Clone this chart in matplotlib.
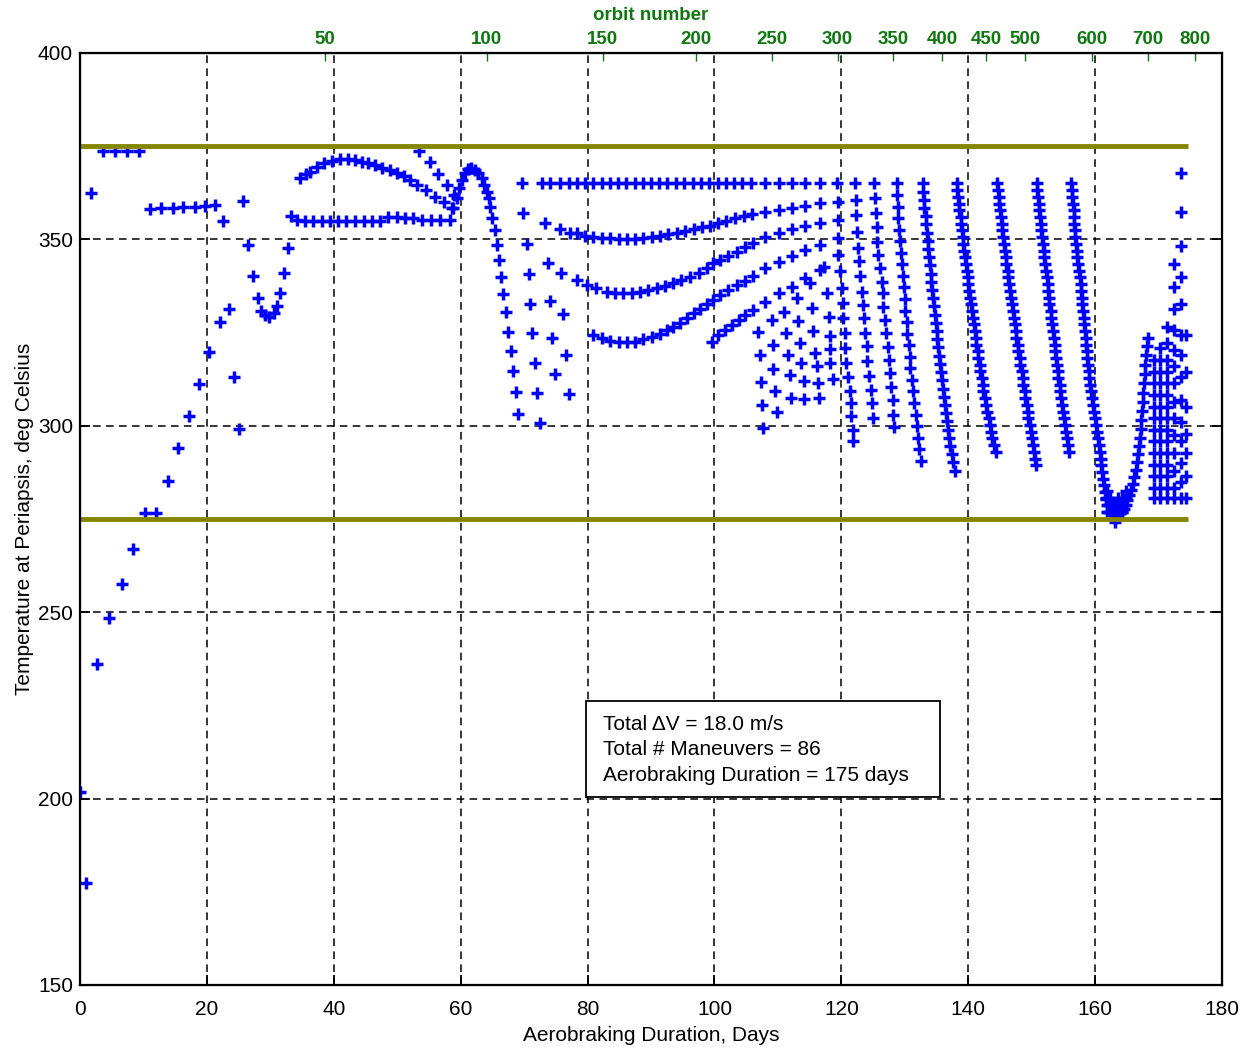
import matplotlib
matplotlib.use('Agg')
import matplotlib.pyplot as plt
from matplotlib.patches import Rectangle

plt.rcParams['font.family'] = ['Liberation Sans', 'DejaVu Sans']

# ── Data (day, temperature in deg C) ────────────────────────────────────────
EARLY_DAY = [0.0, 0.95, 1.8, 2.7, 3.6, 4.6, 5.5, 6.6, 7.4, 8.4, 9.3, 10.3, 11.0, 12.0,
             12.8, 13.8, 14.6, 15.4, 16.3, 17.2, 18.1, 18.7, 19.7, 20.4, 21.2, 22.0,
             22.6, 23.5, 24.2, 25.1, 25.7, 26.5, 27.2, 28.1, 28.6, 29.2, 29.8, 30.5,
             31.0, 31.6, 32.2, 32.8, 33.3]
EARLY_T = [201.8, 177.4, 362.5, 236.0, 373.8, 248.4, 373.8, 257.6, 373.8, 266.9, 373.8,
           276.5, 358.1, 276.5, 358.3, 285.3, 358.3, 294.0, 358.6, 302.6, 358.8, 311.1,
           359.0, 319.9, 359.3, 327.9, 355.0, 331.2, 313.1, 299.2, 360.2, 348.6, 340.3,
           334.2, 330.9, 329.7, 329.3, 330.2, 332.1, 335.5, 340.9, 347.7, 356.3]

FLAT_DAY = [34.2, 35.5, 36.8, 38.1, 39.4, 40.7, 42.0, 43.3, 44.7, 46.0, 47.3, 48.6, 49.9,
            51.2, 52.5, 53.9, 55.4, 56.7, 58.3]
FLAT_T = [355.2, 355.0, 355.0, 355.0, 355.0, 355.0, 355.0, 355.0, 355.0, 355.0, 355.0,
          355.9, 355.9, 355.7, 355.6, 355.3, 355.3, 355.2, 355.3]

ARC0_DAY = [34.7, 35.6, 36.3, 37.3, 38.4, 39.7, 41.0, 42.3, 43.3, 44.4, 45.4, 46.5, 47.6,
            48.9, 49.9, 51.0, 52.0, 53.1, 54.5, 56.0, 57.3, 58.6]
ARC0_T = [366.4, 367.5, 368.2, 369.5, 370.4, 371.1, 371.5, 371.5, 371.3, 370.8, 370.4,
          370.0, 369.1, 368.6, 367.9, 367.0, 365.9, 364.6, 363.3, 361.5, 360.1, 358.3]

DIAG_DAY = [53.5, 55.2, 56.5, 57.8, 59.0]
DIAG_T = [373.8, 370.7, 367.5, 364.6, 361.9]

HUMP_DAY = [58.8, 59.4, 59.8, 60.2, 60.7, 61.2, 61.7, 62.3, 62.8, 63.3, 63.7, 64.1, 64.4,
            64.6, 64.9, 65.4, 65.7, 66.0, 66.4, 66.7, 67.1, 67.5, 67.9, 68.2, 68.7, 69.1]
HUMP_T = [358.3, 361.0, 363.7, 365.9, 367.7, 368.8, 369.1, 368.6, 367.7, 366.4, 364.6,
          362.8, 361.0, 358.8, 355.7, 352.5, 348.5, 344.5, 340.0, 335.4, 330.6, 325.2,
          320.1, 314.8, 309.1, 303.2]

SHORT_DAY = [69.8, 70.4, 70.8, 71.0, 71.3, 71.7, 72.0, 72.5, 74.1, 74.4, 74.9, 76.2, 76.6, 77.0]
SHORT_T = [357.0, 348.8, 340.7, 332.7, 324.8, 316.8, 308.7, 300.8, 333.6, 323.5, 313.9,
           330.0, 319.0, 308.5]

TOP_DAY = [69.6, 72.8, 74.1, 75.7, 77.0, 78.3, 79.6, 80.9, 82.2, 83.5, 84.8, 86.1, 87.4,
           88.7, 90.0, 91.3, 92.6, 93.9, 95.2, 96.6, 97.9, 99.2, 100.5, 101.8, 103.1,
           104.4, 105.7, 108.0, 110.1, 112.2, 114.3, 116.6]
TOP_T = [365.1, 365.1, 365.1, 365.1, 365.1, 365.1, 365.1, 365.1, 365.1, 365.1, 365.1,
         365.1, 365.1, 365.1, 365.1, 365.1, 365.1, 365.1, 365.1, 365.1, 365.1, 365.1,
         365.1, 365.1, 365.1, 365.1, 365.1, 365.1, 365.1, 365.1, 365.1, 365.1]

ARC2_DAY = [73.3, 75.6, 77.2, 78.3, 79.6, 80.9, 82.2, 83.5, 84.9, 86.2, 87.5, 88.8, 90.1,
            91.4, 92.7, 94.1, 95.4, 96.7, 98.0, 99.3, 100.6, 101.9, 103.2, 104.6, 105.9,
            108.0, 110.1, 112.2, 114.3, 116.6]
ARC2_T = [354.5, 352.7, 351.8, 351.6, 350.9, 350.6, 350.3, 350.3, 350.0, 350.0, 350.0,
          350.3, 350.6, 350.9, 351.4, 351.8, 352.3, 352.7, 353.2, 353.6, 354.5, 355.0,
          355.7, 356.3, 356.8, 357.4, 357.9, 358.3, 359.0, 359.7]

ARC3_DAY = [73.8, 75.8, 78.3, 79.9, 81.4, 83.0, 84.3, 85.6, 87.0, 88.3, 89.6, 90.9, 92.2,
            93.5, 94.8, 96.2, 97.5, 98.8, 99.8, 100.9, 102.2, 103.5, 104.8, 106.1, 108.0,
            110.1, 112.2, 114.3, 116.6]
ARC3_T = [343.6, 341.1, 339.1, 337.8, 336.9, 336.0, 335.7, 335.7, 335.7, 336.0, 336.4,
          336.9, 337.5, 338.4, 339.1, 340.0, 341.1, 342.2, 343.6, 344.5, 345.5, 346.7,
          347.9, 349.0, 350.6, 351.8, 352.7, 353.6, 354.5]

ARC4_DAY = [80.9, 82.2, 83.5, 84.9, 86.2, 87.5, 88.8, 90.1, 91.4, 92.5, 93.5, 94.6, 95.6,
            96.7, 97.7, 98.8, 99.8, 100.9, 102.2, 103.5, 104.8, 106.1, 108.0, 110.1,
            112.2, 114.3, 116.6]
ARC4_T = [324.4, 323.5, 322.8, 322.6, 322.6, 322.6, 323.2, 323.9, 324.6, 325.7, 326.6,
          327.7, 328.8, 330.2, 331.2, 332.7, 333.7, 335.1, 336.4, 337.8, 338.9, 340.2,
          342.2, 343.8, 345.5, 347.2, 348.5]

ARC5_DAY = [99.6, 100.6, 101.7, 102.7, 103.8, 104.8, 106.1, 108.0, 110.1, 112.2, 114.3, 116.6]
ARC5_T = [322.6, 324.4, 325.7, 327.0, 328.4, 329.7, 331.1, 333.3, 335.5, 337.3, 339.6, 341.8]

FAN_DAY = [106.9, 107.2, 107.3, 107.5, 107.7, 109.0, 109.3, 109.3, 109.6, 109.9,
           110.9, 111.3, 111.6, 111.9, 112.1, 113.0, 113.2, 113.5, 113.7, 114.1, 114.1,
           115.1, 115.3, 115.6, 115.9, 116.2, 116.4, 116.5,
           117.3, 117.7, 118.0, 118.2, 118.2, 118.2, 118.7]
FAN_T = [325.2, 319.0, 311.8, 305.6, 299.3, 328.4, 321.7, 315.2, 309.4, 303.8,
         330.6, 324.8, 319.0, 313.6, 307.5, 334.2, 328.2, 322.3, 316.9, 312.1, 307.1,
         338.2, 331.5, 325.5, 319.6, 316.0, 311.4, 307.4,
         342.7, 335.5, 329.3, 324.1, 320.5, 316.9, 312.5]

COL1_DAY = [119.3, 119.4, 119.4, 119.4, 119.4, 119.8, 120.1, 120.2, 120.3, 120.6, 120.6,
            120.8, 121.1, 121.4, 121.5, 121.6, 121.9, 121.9]
COL1_T = [365.0, 360.1, 355.2, 350.3, 345.8, 341.4, 336.9, 332.9, 328.9, 324.8, 320.8,
          316.8, 313.2, 309.2, 306.1, 302.5, 298.9, 295.8]

COL2_DAY = [122.2, 122.3, 122.3, 122.4, 122.7, 122.8, 123.0, 123.2, 123.4, 123.6, 123.7,
            124.0, 124.1, 124.4, 124.6, 124.8, 125.0]
COL2_T = [365.0, 360.6, 356.6, 352.1, 347.7, 344.1, 340.1, 336.0, 332.5, 328.9, 324.9,
          321.3, 317.3, 313.3, 309.7, 306.1, 302.1]

COL3_DAY = [125.2, 125.3, 125.5, 125.6, 125.7, 125.8, 126.1, 126.4, 126.5, 126.6, 126.9,
            127.0, 127.3, 127.5, 127.7, 127.8, 128.1, 128.2, 128.3]
COL3_T = [365.0, 361.0, 357.1, 353.2, 349.3, 345.8, 342.2, 338.6, 335.5, 331.9, 328.4,
          324.8, 321.2, 317.6, 314.1, 310.5, 306.9, 302.9, 299.8]

COL4_DAY = [128.7, 128.8, 128.9, 129.0, 129.1, 129.3, 129.4, 129.5, 129.7, 129.8, 130.0,
            130.1, 130.3, 130.4, 130.6, 130.8, 130.9, 131.1, 131.3, 131.5, 131.7, 131.9,
            132.1, 132.3, 132.6]
COL4_T = [365.0, 361.9, 358.8, 355.7, 352.6, 349.5, 346.4, 343.3, 340.2, 337.1, 334.0,
          330.9, 327.8, 324.7, 321.6, 318.5, 315.4, 312.3, 309.2, 306.1, 303.0, 299.9,
          296.8, 293.7, 290.6]

COL5_DAY = [132.8, 132.9, 133.0, 133.1, 133.3, 133.4, 133.5, 133.6, 133.7, 133.8, 134.0,
            134.1, 134.2, 134.3, 134.5, 134.6, 134.7, 134.9, 135.0, 135.1, 135.3, 135.4,
            135.6, 135.7, 135.9, 136.0, 136.2, 136.3, 136.5, 136.7, 136.8, 137.0, 137.2,
            137.4, 137.6, 137.9]
COL5_T = [365.0, 362.8, 360.6, 358.4, 356.2, 354.0, 351.8, 349.6, 347.4, 345.2, 343.0,
          340.8, 338.6, 336.4, 334.2, 332.0, 329.8, 327.6, 325.4, 323.2, 321.0, 318.8,
          316.6, 314.4, 312.2, 310.0, 307.8, 305.6, 303.4, 301.2, 299.0, 296.8, 294.6,
          292.4, 290.2, 288.0]

COL6_DAY = [138.2, 138.3, 138.4, 138.5, 138.6, 138.8, 138.9, 139.0, 139.1, 139.2, 139.4,
            139.5, 139.6, 139.8, 139.9, 140.0, 140.2, 140.3, 140.4, 140.6, 140.7, 140.9,
            141.0, 141.2, 141.3, 141.5, 141.6, 141.8, 141.9, 142.1, 142.3, 142.4, 142.6,
            142.8, 143.0, 143.2, 143.4, 143.6, 143.8, 144.0, 144.3]
COL6_T = [365.0, 363.2, 361.4, 359.6, 357.8, 356.0, 354.2, 352.4, 350.6, 348.8, 347.0,
          345.2, 343.4, 341.6, 339.8, 338.0, 336.2, 334.4, 332.6, 330.8, 329.0, 327.2,
          325.4, 323.6, 321.8, 320.0, 318.2, 316.4, 314.6, 312.8, 311.0, 309.2, 307.4,
          305.6, 303.8, 302.0, 300.2, 298.4, 296.6, 294.8, 293.0]

COL7_DAY = [144.6, 144.7, 144.8, 144.9, 145.0, 145.1, 145.3, 145.4, 145.5, 145.6, 145.8,
            145.9, 146.0, 146.2, 146.3, 146.4, 146.6, 146.7, 146.9, 147.0, 147.2, 147.3,
            147.5, 147.6, 147.8, 147.9, 148.1, 148.2, 148.4, 148.6, 148.7, 148.9, 149.0,
            149.2, 149.4, 149.5, 149.7, 149.9, 150.0, 150.2, 150.4, 150.5, 150.7]
COL7_T = [365.0, 363.2, 361.4, 359.6, 357.8, 356.0, 354.2, 352.4, 350.6, 348.8, 347.0,
          345.2, 343.4, 341.6, 339.8, 338.0, 336.2, 334.4, 332.6, 330.8, 329.0, 327.2,
          325.4, 323.6, 321.8, 320.0, 318.2, 316.4, 314.6, 312.8, 311.0, 309.2, 307.4,
          305.6, 303.8, 302.0, 300.2, 298.4, 296.6, 294.8, 293.0, 291.2, 289.4]

COL8_DAY = [150.8, 150.9, 151.0, 151.1, 151.2, 151.3, 151.4, 151.5, 151.7, 151.8, 151.9,
            152.0, 152.1, 152.2, 152.4, 152.5, 152.6, 152.7, 152.8, 153.0, 153.1, 153.2,
            153.3, 153.5, 153.6, 153.7, 153.8, 154.0, 154.1, 154.2, 154.4, 154.5, 154.6,
            154.8, 154.9, 155.1, 155.2, 155.4, 155.5, 155.7, 155.9]
COL8_T = [365.0, 363.2, 361.4, 359.6, 357.8, 356.0, 354.2, 352.4, 350.6, 348.8, 347.0,
          345.2, 343.4, 341.6, 339.8, 338.0, 336.2, 334.4, 332.6, 330.8, 329.0, 327.2,
          325.4, 323.6, 321.8, 320.0, 318.2, 316.4, 314.6, 312.8, 311.0, 309.2, 307.4,
          305.6, 303.8, 302.0, 300.2, 298.4, 296.6, 294.8, 293.0]

COL9_DAY = [156.2, 156.3, 156.4, 156.5, 156.6, 156.7, 156.7, 156.8, 156.9, 157.0, 157.1,
            157.2, 157.3, 157.4, 157.6, 157.7, 157.8, 157.9, 158.0, 158.1, 158.2,
            158.3, 158.4, 158.5, 158.6, 158.7, 158.8, 158.9, 159.0, 159.1, 159.2,
            159.4, 159.5, 159.7, 159.8, 160.0, 160.1, 160.3, 160.4, 160.6, 160.7,
            160.9, 161.0, 161.1, 161.3, 161.4, 161.6, 161.7]
COL9_T = [365.0, 363.2, 361.4, 359.6, 357.8, 356.0, 354.2, 352.4, 350.6, 348.8, 347.0,
          345.2, 343.4, 341.6, 339.8, 338.0, 336.2, 334.4, 332.6, 330.8, 329.0,
          327.2, 325.4, 323.6, 321.8, 320.0, 318.2, 316.4, 314.6, 312.8, 311.0,
          309.2, 307.4, 305.6, 303.8, 302.0, 300.2, 298.4, 296.6, 294.8, 293.0,
          291.2, 289.4, 287.6, 285.8, 284.0, 282.2, 280.4]

VBOT_DAY = [161.9, 162.1, 162.3, 162.5, 162.7, 162.9, 163.1, 163.3, 163.5, 163.7, 163.9,
            164.1, 164.3, 161.8, 162.1, 162.4, 162.7, 163.0, 163.3, 163.6, 163.9, 164.2,
            164.5, 161.7, 162.0, 162.4, 163.6, 164.2, 164.8, 161.8, 164.9, 163.1]
VBOT_T = [277.0, 277.0, 277.0, 277.0, 277.0, 277.0, 277.0, 277.0, 277.0, 277.0, 277.0,
          277.0, 277.0, 278.8, 278.8, 278.8, 278.8, 278.8, 278.8, 278.8, 278.8, 278.8,
          278.8, 280.6, 280.6, 280.6, 280.6, 280.6, 280.6, 282.5, 282.5, 274.3]

VUP_DAY = [164.2, 164.5, 164.8, 165.1, 165.4, 165.7, 166.0, 166.2, 166.4, 166.6, 166.8,
           166.9, 167.1, 167.2, 167.3, 167.4, 167.5, 167.6, 167.7, 167.8, 167.9, 168.0,
           168.2, 168.4]
VUP_T = [277.0, 277.8, 278.8, 280.0, 281.3, 282.8, 284.5, 286.3, 288.2, 290.2, 292.3,
         294.5, 296.8, 299.1, 301.5, 303.9, 306.4, 308.9, 311.4, 313.9, 316.4, 318.9,
         321.4, 323.5]

# end-of-campaign lattice, one column per day
LAT_DAYS = [169.3, 170.2, 171.3, 172.5, 173.6, 174.3]
LAT_T = [
    [317.6, 314.5, 311.4, 308.3, 305.1, 302.0, 298.9, 295.8, 292.6, 289.5, 286.4, 283.2, 280.6],
    [320.8, 317.6, 314.5, 311.4, 308.3, 305.1, 302.0, 298.9, 295.8, 292.6, 289.5, 286.4, 283.2, 280.6],
    [326.6, 322.1, 317.6, 314.5, 311.4, 308.3, 305.1, 302.0, 298.9, 295.8, 292.6, 289.5, 286.4, 283.2, 280.6],
    [343.4, 337.3, 331.2, 325.7, 320.3, 316.0, 311.4, 306.5, 302.0, 297.5, 292.6, 288.0, 283.2, 280.6],
    [367.7, 357.4, 348.2, 340.0, 332.7, 324.4, 319.0, 313.0, 307.0, 301.0, 295.8, 290.0, 285.0, 280.6],
    [324.4, 314.5, 305.1, 297.9, 292.6, 286.4, 280.6],
]

LIMIT_T = [375, 275]
LIMIT_END = 174.6

ORBIT_LABELS = [50, 100, 150, 200, 250, 300, 350, 400, 450, 500, 600, 700, 800]
ORBIT_DAYS = [38.6, 64.1, 82.4, 97.1, 109.1, 119.4, 128.2, 135.9, 142.8, 149.0, 159.5,
              168.3, 175.8]

SUMMARY = ['Total \u0394V = 18.0 m/s', 'Total # Maneuvers = 86',
           'Aerobraking Duration = 175 days']

GREEN = '#107810'
OLIVE = '#858500'

fig = plt.figure(figsize=(12.5, 10.51), dpi=100)
ax = fig.add_axes([0.064, 0.0628, 0.9136, 0.8868])

groups = [(EARLY_DAY, EARLY_T), (FLAT_DAY, FLAT_T), (ARC0_DAY, ARC0_T), (DIAG_DAY, DIAG_T),
          (HUMP_DAY, HUMP_T), (SHORT_DAY, SHORT_T), (TOP_DAY, TOP_T), (ARC2_DAY, ARC2_T),
          (ARC3_DAY, ARC3_T), (ARC4_DAY, ARC4_T), (ARC5_DAY, ARC5_T), (FAN_DAY, FAN_T),
          (COL1_DAY, COL1_T), (COL2_DAY, COL2_T), (COL3_DAY, COL3_T), (COL4_DAY, COL4_T),
          (COL5_DAY, COL5_T), (COL6_DAY, COL6_T), (COL7_DAY, COL7_T), (COL8_DAY, COL8_T),
          (COL9_DAY, COL9_T), (VBOT_DAY, VBOT_T), (VUP_DAY, VUP_T)]
for d, t in groups:
    ax.plot(d, t, linestyle='none', marker='+', color='#0000FF', ms=9, mew=2.5, zorder=3)
for d, temps in zip(LAT_DAYS, LAT_T):
    ax.plot([d] * len(temps), temps, linestyle='none', marker='+', color='#0000FF',
            ms=9, mew=2.5, zorder=3)

for t in LIMIT_T:
    ax.plot([0, LIMIT_END], [t, t], color=OLIVE, lw=3.5, solid_capstyle='butt', zorder=4)

ax.set_xlim(0, 180)
ax.set_ylim(150, 400)
ax.set_xticks(range(0, 181, 20))
ax.set_yticks(range(150, 401, 50))
ax.grid(True, color='black', linestyle=(0, (5, 3.5)), linewidth=1.1)
ax.tick_params(direction='in', length=7, width=1.3, top=True, right=True, labelsize=15)
ax.tick_params(axis='x', pad=11)
ax.tick_params(axis='y', pad=5)
for s in ax.spines.values():
    s.set_linewidth(1.6)
ax.set_xlabel('Aerobraking Duration, Days', fontsize=15, labelpad=5)
ax.set_ylabel('Temperature at Periapsis, deg Celsius', fontsize=15, labelpad=3)

# orbit number axis along the top
ax2 = ax.twiny()
ax2.set_xlim(0, 180)
ax2.set_xticks(ORBIT_DAYS)
ax2.set_xticklabels([str(o) for o in ORBIT_LABELS], color=GREEN, fontweight='bold',
                    fontsize=13.5)
ax2.tick_params(direction='in', length=6, width=1, color=GREEN, pad=3.5)
ax2.set_xlabel('orbit number', color=GREEN, fontweight='bold', fontsize=13.5, labelpad=8)

# summary box
ax.add_patch(Rectangle((79.8, 200.4), 55.8, 25.8, facecolor='white', edgecolor='black',
                       lw=1.3, zorder=5))
for i, line in enumerate(SUMMARY):
    ax.text(82.4, 220.0 - i * 6.95, line, fontsize=15, va='center', ha='left', zorder=6)

fig.savefig('out.png', dpi=100, facecolor='white')
